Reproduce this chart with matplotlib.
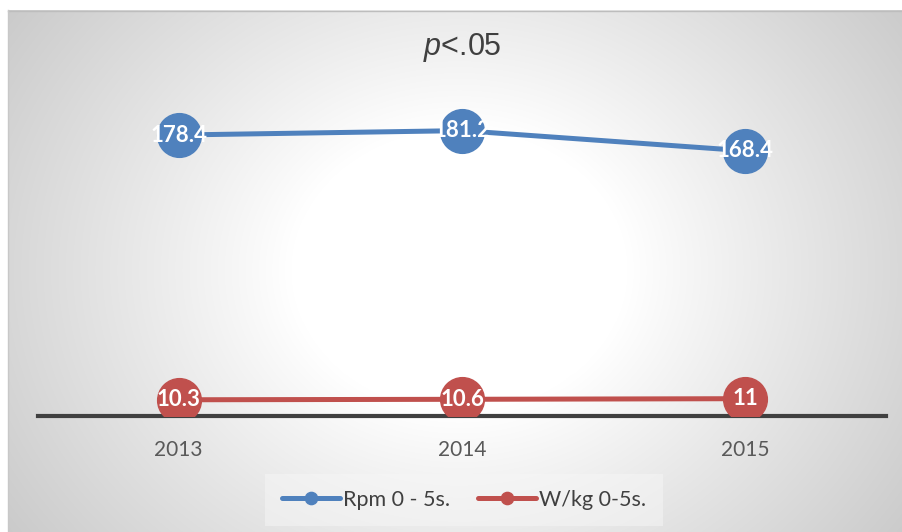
import matplotlib.pyplot as plt
import numpy as np

plt.rcParams['mathtext.fontset'] = 'custom'
plt.rcParams['mathtext.it'] = 'Liberation Sans:italic'
plt.rcParams['mathtext.rm'] = 'Liberation Sans'

# data
years = ['2013', '2014', '2015']
rpm = [178.4, 181.2, 168.4]
wkg = [10.3, 10.6, 11]
rpm_labels = ['178.4', '181.2', '168.4']
wkg_labels = ['10.3', '10.6', '11']

W, H = 903, 532
fig = plt.figure(figsize=(W / 100, H / 100), dpi=100, facecolor='white')

# radial gradient panel behind the chart
bg = fig.add_axes([0, 0, 1, 1])
bg.set_xlim(0, W)
bg.set_ylim(H, 0)
bg.axis('off')
yy, xx = np.mgrid[0:H, 0:W]
r = np.hypot((xx - 455) / 1.0, (yy - 265) / 0.85)
t = np.clip((r - 170) / 440, 0, 1)
val = (255 - 60 * t ** 0.95) / 255
img = np.dstack([val, val, val])
bg.imshow(img, extent=(8, W, H, 10), interpolation='bilinear', zorder=0)
bg.plot([8, W], [10.5, 10.5], color='#bdbdbd', lw=1)
bg.plot([8.5, 8.5], [10, H], color='#c8c8c8', lw=1)

# main plot area
ax = fig.add_axes([38 / W, 116 / H, 848 / W, 315 / H])
ax.patch.set_alpha(0)
x = np.arange(len(years))
blue, red = '#4F81BD', '#C0504D'
ax.plot(x, rpm, color=blue, lw=3.6, marker='o', ms=31.5, mec=blue,
        label='Rpm 0 - 5s.', solid_capstyle='round', zorder=3)
ax.plot(x, wkg, color=red, lw=3.6, marker='o', ms=31.5, mec=red,
        label='W/kg 0-5s.', solid_capstyle='round', zorder=3)
for xi, v, s in zip(x, rpm, rpm_labels):
    ax.text(xi, v, s, ha='center', va='center', color='white',
            fontsize=16, fontweight='bold', family='Lato', zorder=4)
for xi, v, s in zip(x, wkg, wkg_labels):
    ax.text(xi, v, s, ha='center', va='center', color='white',
            fontsize=16, fontweight='bold', family='Lato', zorder=4)

ax.set_xlim(-0.5 + 1 / 850 * 3, 2.5 - 1 / 850 * 3)
ax.set_ylim(0, 200)
for side in ['top', 'right', 'left']:
    ax.spines[side].set_visible(False)
ax.spines['bottom'].set_color('#404040')
ax.spines['bottom'].set_linewidth(3)
ax.spines['bottom'].set_zorder(2)
ax.set_yticks([])
ax.set_xticks(x)
ax.set_xticklabels(years, fontsize=15, family='Lato', color='#595959')
ax.tick_params(axis='x', length=0, pad=17)

fig.text(462 / W, 1 - 48 / H, r'$\mathit{p}$<.05', ha='center', va='center',
         fontsize=22, color='#404040', family='Liberation Sans')

leg = fig.legend(loc='center', bbox_to_anchor=(464 / W, 1 - 500 / H),
                 ncol=2, frameon=True, prop={'family': 'Lato', 'size': 15.5},
                 markerscale=0.28, handlelength=2.7, columnspacing=1.3,
                 handletextpad=0.15, borderpad=0.75, fancybox=False)
leg.get_frame().set_facecolor('#f6f6f6')
leg.get_frame().set_edgecolor('none')
leg.get_frame().set_alpha(0.5)
for t_ in leg.get_texts():
    t_.set_color('#404040')

fig.savefig('out.png', dpi=100, facecolor='white')
